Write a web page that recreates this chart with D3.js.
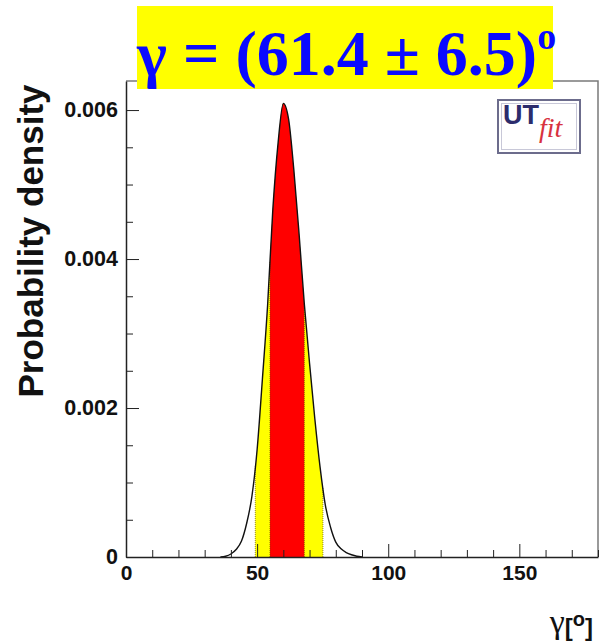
<!DOCTYPE html>
<html>
<head>
<meta charset="utf-8">
<script src="https://cdn.jsdelivr.net/npm/d3@7/dist/d3.min.js"></script>
<style>
  body { margin: 0; background: #fff; }
  svg { display: block; }
  .tick text { font-family: "Liberation Sans", Arial, sans-serif; font-weight: bold; fill: #111; }
</style>
</head>
<body>
<div id="chart"></div>
<script>
// gamma [deg] sample points and probability density
const gammaValues = [36, 38, 40, 42, 44, 46, 48, 50, 52, 54, 56, 58, 60, 62, 64, 66, 68, 70, 72, 74, 76, 78, 80, 82, 84, 86, 88, 90];
const densityValues = [0.00000, 0.00001, 0.00004, 0.00010, 0.00021, 0.00045, 0.00081, 0.00144, 0.00238, 0.00338, 0.00467, 0.00556, 0.00609, 0.00588, 0.00520, 0.00434, 0.00340, 0.00260, 0.00186, 0.00121, 0.00070, 0.00040, 0.00020, 0.00011, 0.00006, 0.00003, 0.00001, 0.00000];
const band68 = [54.9, 68.0];
const band95 = [49.3, 75.1];
const xMajorTicks = [0, 50, 100, 150];
const yMajorTicks = [0, 0.002, 0.004, 0.006];
const titleText = "γ = (61.4 ± 6.5)";

const width = 599, height = 642;
const m = { left: 126, right: 598, top: 81, bottom: 557 };

const svg = d3.select("#chart").append("svg")
  .attr("width", width)
  .attr("height", height);

const x = d3.scaleLinear().domain([0, 180]).range([m.left, m.right]);
const y = d3.scaleLinear().domain([0, 0.00639]).range([m.bottom, m.top]);

const pts = gammaValues.map((g, i) => [g, densityValues[i]]);

const area = d3.area()
  .x(d => x(d[0]))
  .y0(y(0))
  .y1(d => y(d[1]))
  .curve(d3.curveMonotoneX);
const line = d3.line()
  .x(d => x(d[0]))
  .y(d => y(d[1]))
  .curve(d3.curveMonotoneX);

// clip regions for the 95% and 68% bands
const defs = svg.append("defs");
[["clip95", band95], ["clip68", band68]].forEach(([id, b]) => {
  defs.append("clipPath").attr("id", id)
    .append("rect")
    .attr("x", x(b[0])).attr("y", m.top)
    .attr("width", x(b[1]) - x(b[0])).attr("height", m.bottom - m.top);
});

svg.append("path").datum(pts)
  .attr("d", area).attr("fill", "#ffff00")
  .attr("clip-path", "url(#clip95)");
svg.append("path").datum(pts)
  .attr("d", area).attr("fill", "#ff0000")
  .attr("clip-path", "url(#clip68)");

// dotted edges of the bands
const interp = g => {
  const i = d3.bisectLeft(gammaValues, g);
  const t = (g - gammaValues[i - 1]) / (gammaValues[i] - gammaValues[i - 1]);
  return densityValues[i - 1] + t * (densityValues[i] - densityValues[i - 1]);
};
band95.concat(band68).forEach(g => {
  svg.append("line")
    .attr("x1", x(g)).attr("x2", x(g))
    .attr("y1", y(0)).attr("y2", y(interp(g)))
    .attr("stroke", "#6b5a00").attr("stroke-width", 1)
    .attr("stroke-dasharray", "1,1").attr("opacity", 0.7);
});

svg.append("path").datum(pts)
  .attr("d", line).attr("fill", "none")
  .attr("stroke", "#111").attr("stroke-width", 1.4);

// frame top/right
svg.append("path")
  .attr("d", `M${m.left},${m.top}H${m.right}V${m.bottom}`)
  .attr("fill", "none").attr("stroke", "#7a7a7a").attr("stroke-width", 1.5);

// x axis
const xMinor = d3.range(0, 181, 10).filter(v => v % 50 !== 0);
svg.append("g").attr("transform", `translate(0,${m.bottom})`)
  .call(d3.axisBottom(x).tickValues(xMinor).tickSize(-7).tickSizeOuter(0).tickFormat(""))
  .call(g => g.select(".domain").remove())
  .selectAll("line").attr("stroke", "#222");
svg.append("g").attr("transform", `translate(0,${m.bottom})`)
  .call(d3.axisBottom(x).tickValues(xMajorTicks).tickSize(-13).tickSizeOuter(0).tickPadding(8))
  .call(g => g.select(".domain").attr("stroke", "#222").attr("stroke-width", 1.5))
  .call(g => g.selectAll("text").style("font-size", "21px"))
  .selectAll("line").attr("stroke", "#222");

// y axis
const yMinor = d3.range(0, 0.0064, 0.0005).filter(v => Math.abs(v / 0.002 - Math.round(v / 0.002)) > 1e-6);
svg.append("g").attr("transform", `translate(${m.left},0)`)
  .call(d3.axisLeft(y).tickValues(yMinor).tickSize(-7).tickSizeOuter(0).tickFormat(""))
  .call(g => g.select(".domain").remove())
  .selectAll("line").attr("stroke", "#222");
svg.append("g").attr("transform", `translate(${m.left},0)`)
  .call(d3.axisLeft(y).tickValues(yMajorTicks).tickSize(-13).tickSizeOuter(0).tickPadding(8)
    .tickFormat(d => d === 0 ? "0" : d3.format(".3f")(d)))
  .call(g => g.select(".domain").attr("stroke", "#222").attr("stroke-width", 1.5))
  .call(g => g.selectAll("text").attr("dy", "0.28em").style("font-size", "21.5px"))
  .selectAll("line").attr("stroke", "#222");

// y axis title
svg.append("text")
  .attr("transform", `translate(43,${(82 + 400) / 2}) rotate(-90)`)
  .attr("text-anchor", "middle")
  .style("font-family", "'Liberation Sans', Arial, sans-serif")
  .style("font-weight", "bold").style("font-size", "35px").attr("fill", "#111")
  .text("Probability density");

// x axis title  γ[°]
const xt = svg.append("text")
  .attr("text-anchor", "end").attr("x", 593).attr("y", 636)
  .attr("fill", "#111");
xt.append("tspan").attr("dy", -3)
  .style("font-family", "'Liberation Serif', serif").style("font-size", "34px").text("γ");
xt.append("tspan").attr("dy", 3)
  .style("font-family", "'Liberation Sans', sans-serif").style("font-weight", "bold").style("font-size", "24px").text("[");
xt.append("tspan").attr("dy", -10)
  .style("font-family", "'Liberation Sans', sans-serif").style("font-weight", "bold").style("font-size", "20px").text("o");
xt.append("tspan").attr("dy", 10)
  .style("font-family", "'Liberation Sans', sans-serif").style("font-weight", "bold").style("font-size", "24px").text("]");

// UTfit logo
const logo = svg.append("g");
logo.append("rect").attr("x", 498).attr("y", 100).attr("width", 82).attr("height", 53)
  .attr("fill", "#fff").attr("stroke", "#6c6c8c").attr("stroke-width", 2);
logo.append("rect").attr("x", 501.5).attr("y", 103.5).attr("width", 75).attr("height", 46)
  .attr("fill", "none").attr("stroke", "#c8c8d8").attr("stroke-width", 1);
logo.append("text").attr("x", 503).attr("y", 124)
  .style("font-family", "'Liberation Sans', sans-serif").style("font-weight", "bold").style("font-size", "27px")
  .attr("fill", "#2c2c6c").text("UT");
logo.append("text").attr("x", 539).attr("y", 137)
  .style("font-family", "'Liberation Serif', serif").style("font-style", "italic").style("font-size", "28px")
  .attr("fill", "#d8323f").text("fit");

// title on yellow box
svg.append("rect").attr("x", 137).attr("y", 6).attr("width", 416).attr("height", 83).attr("fill", "#ffff00");
const title = svg.append("text").attr("x", 137).attr("y", 75)
  .style("font-family", "'Liberation Serif', 'DejaVu Serif', serif")
  .style("font-weight", "bold").style("font-size", "64px").attr("fill", "#0a0aff");
title.append("tspan").text(titleText);
title.append("tspan").attr("dy", -26).style("font-size", "38px").text("o");
</script>
</body>
</html>
